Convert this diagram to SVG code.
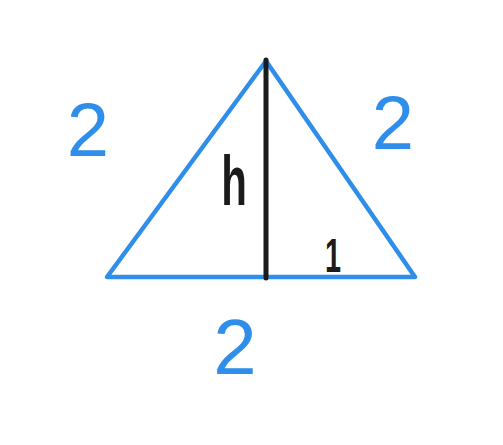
<svg xmlns="http://www.w3.org/2000/svg" width="503" height="445" viewBox="0 0 503 445">
  <style>
    .side { fill: none; stroke: #2F8EEA; stroke-width: 4.5; stroke-linejoin: round; stroke-linecap: round; }
    .height { stroke: #1B1B1B; stroke-width: 5; stroke-linecap: round; }
    .blue { fill: #2F8EEA; font-family: "Liberation Sans", "DejaVu Sans", sans-serif; text-anchor: middle; }
    .dark { fill: #1B1B1B; font-family: "Liberation Sans", "DejaVu Sans", sans-serif; text-anchor: middle; font-weight: bold; }
  </style>
  <rect width="503" height="445" fill="#FFFFFF"/>
  <g id="triangle">
    <polygon class="side" points="266,61 107,277 415,277"/>
  </g>
  <g id="connectors">
    <line class="height" x1="266" y1="60" x2="266" y2="278"/>
  </g>
  <g id="label-left">
    <text class="blue" x="88" y="156" font-size="76">2</text>
  </g>
  <g id="label-right">
    <text class="blue" x="393" y="149" font-size="76">2</text>
  </g>
  <g id="label-bottom">
    <text class="blue" x="235" y="374" font-size="78">2</text>
  </g>
  <g id="label-h">
    <text class="dark" x="234" y="205" font-size="70" transform="translate(234 0) scale(0.6 1) translate(-234 0)">h</text>
  </g>
  <g id="label-1">
    <text class="dark" x="333" y="272" font-size="48" transform="translate(333 0) scale(0.6 1) translate(-333 0)">1</text>
  </g>
</svg>
